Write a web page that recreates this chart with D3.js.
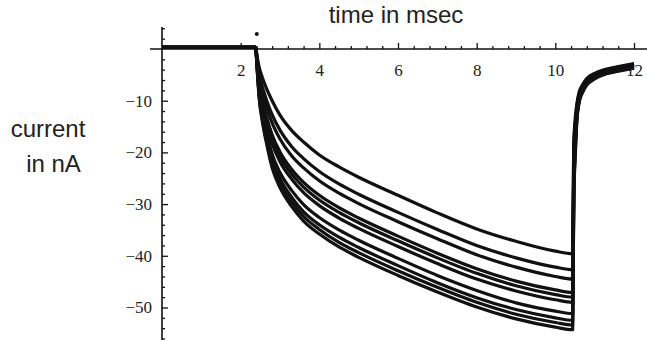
<!DOCTYPE html>
<html>
<head>
<meta charset="utf-8">
<script src="https://cdn.jsdelivr.net/npm/d3@7"></script>
<style>
  body { margin: 0; background: #fff; }
  svg text { fill: #222; }
</style>
</head>
<body>
<svg id="chart" width="647" height="340"></svg>
<script>
// sample times (msec) shared by all traces
const times = [0, 2.38, 2.42, 2.47, 2.55, 2.65, 2.8, 3.0, 3.3, 3.6, 4.0, 4.5, 5.0, 6, 7, 8, 9, 10, 10.44,
               10.47, 10.5, 10.55, 10.6, 10.7, 10.8, 11, 11.3, 11.6, 12];

// current traces in nA, top trace first
const trace1  = [0.3, 0.3, -1.5, -3.5, -5.5, -7.5, -10.0, -12.8, -15.8, -18.0, -20.5, -22.8, -24.8, -28.3, -31.7, -34.8, -37.2, -39.1, -39.6,
                 -18, -14, -10.5, -8.5, -6.8, -5.7, -4.7, -3.9, -3.4, -2.8];
const trace2  = [0.3, 0.3, -2.0, -4.8, -7.3, -9.7, -12.7, -15.7, -18.9, -21.2, -23.7, -26.1, -28.1, -31.6, -34.9, -38.0, -40.4, -42.2, -42.7,
                 -19, -15, -11.0, -8.8, -7.0, -5.9, -4.8, -4.0, -3.5, -2.9];
const trace3  = [0.3, 0.3, -2.3, -5.5, -8.3, -11.0, -14.3, -17.4, -20.7, -23.0, -25.5, -27.9, -29.9, -33.4, -36.7, -39.8, -42.2, -44.0, -44.5,
                 -20, -16, -11.3, -9.0, -7.2, -6.0, -4.9, -4.1, -3.6, -3.0];
const trace4  = [0.3, 0.3, -2.8, -6.6, -9.8, -12.9, -16.6, -19.9, -23.3, -25.8, -28.3, -30.7, -32.7, -36.2, -39.5, -42.5, -44.9, -46.6, -47.1,
                 -21, -17, -11.7, -9.3, -7.4, -6.2, -5.1, -4.2, -3.7, -3.1];
const trace5  = [0.3, 0.3, -2.9, -6.9, -10.3, -13.5, -17.4, -20.8, -24.2, -26.7, -29.2, -31.6, -33.6, -37.1, -40.4, -43.4, -45.8, -47.5, -48.0,
                 -22, -17.5, -12.0, -9.5, -7.5, -6.3, -5.2, -4.3, -3.8, -3.2];
const trace6  = [0.3, 0.3, -3.1, -7.3, -10.9, -14.2, -18.3, -21.8, -25.2, -27.8, -30.3, -32.7, -34.7, -38.2, -41.5, -44.5, -46.8, -48.5, -49.0,
                 -23, -18, -12.2, -9.7, -7.6, -6.4, -5.3, -4.4, -3.9, -3.3];
const trace7  = [0.3, 0.3, -3.5, -8.2, -12.2, -15.8, -20.3, -23.9, -27.4, -30.1, -32.6, -35.0, -37.0, -40.5, -43.8, -46.7, -49.1, -50.7, -51.2,
                 -25, -19, -12.6, -10.0, -7.8, -6.6, -5.4, -4.5, -4.0, -3.4];
const trace8  = [0.3, 0.3, -3.7, -8.8, -13.0, -16.7, -21.4, -25.1, -28.7, -31.5, -34.0, -36.4, -38.4, -41.9, -45.2, -48.1, -50.4, -52.0, -52.5,
                 -26, -20, -13.0, -10.2, -8.0, -6.7, -5.5, -4.6, -4.1, -3.5];
const trace9  = [0.3, 0.3, -3.9, -9.1, -13.5, -17.4, -22.2, -26.0, -29.6, -32.4, -34.9, -37.4, -39.4, -42.9, -46.1, -49.0, -51.3, -52.9, -53.4,
                 -27, -21, -13.3, -10.4, -8.1, -6.8, -5.6, -4.7, -4.2, -3.6];
const trace10 = [0.3, 0.3, -4.0, -9.5, -14.0, -18.0, -23.0, -26.8, -30.5, -33.3, -35.8, -38.3, -40.3, -43.8, -47.0, -49.9, -52.2, -53.8, -54.3,
                 -28, -22, -13.6, -10.6, -8.3, -7.0, -5.8, -4.8, -4.3, -3.7];
const traces = [trace1, trace2, trace3, trace4, trace5, trace6, trace7, trace8, trace9, trace10];

// stray sample above the axis at the step onset
const strayPoint = [2.41, 2.9];

const xTicks = [2, 4, 6, 8, 10, 12];
const yTicks = [-10, -20, -30, -40, -50];

const width = 647, height = 340;
const svg = d3.select("#chart");

const x = d3.scaleLinear().domain([0, 12]).range([162, 634]);
const y = d3.scaleLinear().domain([0, -56]).range([49, 338.5]);

// minor ticks
const xMinor = d3.range(0.4, 12.01, 0.4).filter(v => Math.abs(v / 2 - Math.round(v / 2)) > 0.01);
const yMinor = d3.range(4, -57, -2).filter(v => v % 10 !== 0);

const tickFont = "'Liberation Serif', 'DejaVu Serif', serif";
const titleFont = "'Liberation Sans', Arial, sans-serif";

// x axis (ticks point up, labels below)
const gx = svg.append("g").attr("transform", `translate(0,${y(0)})`);
gx.call(d3.axisBottom(x).tickValues(xMinor).tickSize(-3).tickSizeOuter(0).tickFormat(""))
  .call(g => g.select(".domain").remove());
const gxMajor = svg.append("g").attr("transform", `translate(0,${y(0)})`);
gxMajor.call(d3.axisBottom(x).tickValues(xTicks).tickSize(-6).tickSizeOuter(0).tickPadding(15).tickFormat(d3.format("d")))
  .call(g => g.select(".domain").remove())
  .call(g => g.selectAll("text").attr("font-family", tickFont).attr("font-size", 17).attr("fill", "#222"));

// y axis (ticks point right, labels left)
const gy = svg.append("g").attr("transform", `translate(${x(0)},0)`);
gy.call(d3.axisLeft(y).tickValues(yMinor).tickSize(-3).tickSizeOuter(0).tickFormat(""))
  .call(g => g.select(".domain").remove());
const gyMajor = svg.append("g").attr("transform", `translate(${x(0)},0)`);
gyMajor.call(d3.axisLeft(y).tickValues(yTicks).tickSize(-6).tickSizeOuter(0).tickPadding(10))
  .call(g => g.select(".domain").remove())
  .call(g => g.selectAll("text").attr("font-family", tickFont).attr("font-size", 17).attr("fill", "#222"));

svg.selectAll(".tick line").attr("stroke", "#111").attr("stroke-width", 1.3);

// axis lines
svg.append("line")
  .attr("x1", 150).attr("x2", width).attr("y1", y(0)).attr("y2", y(0))
  .attr("stroke", "#111").attr("stroke-width", 1.6);
svg.append("line")
  .attr("x1", x(0)).attr("x2", x(0)).attr("y1", 27).attr("y2", height)
  .attr("stroke", "#111").attr("stroke-width", 1.6);

// traces
const line = d3.line()
  .x(d => x(d[0]))
  .y(d => y(d[1]))
  .curve(d3.curveMonotoneX);

svg.append("g")
  .selectAll("path")
  .data(traces)
  .join("path")
  .attr("d", vals => line(times.map((t, i) => [t, vals[i]])))
  .attr("fill", "none")
  .attr("stroke", "#111")
  .attr("stroke-width", 3.2)
  .attr("stroke-linejoin", "round");

svg.append("circle")
  .attr("cx", x(strayPoint[0]))
  .attr("cy", y(strayPoint[1]))
  .attr("r", 2)
  .attr("fill", "#111");

// axis titles
svg.append("text")
  .attr("x", 396).attr("y", 23)
  .attr("text-anchor", "middle")
  .attr("font-family", titleFont).attr("font-size", 24)
  .text("time in msec");
svg.append("text")
  .attr("x", 48).attr("y", 137)
  .attr("text-anchor", "middle")
  .attr("font-family", titleFont).attr("font-size", 24)
  .text("current");
svg.append("text")
  .attr("x", 53.5).attr("y", 172)
  .attr("text-anchor", "middle")
  .attr("font-family", titleFont).attr("font-size", 24)
  .text("in nA");
</script>
</body>
</html>
